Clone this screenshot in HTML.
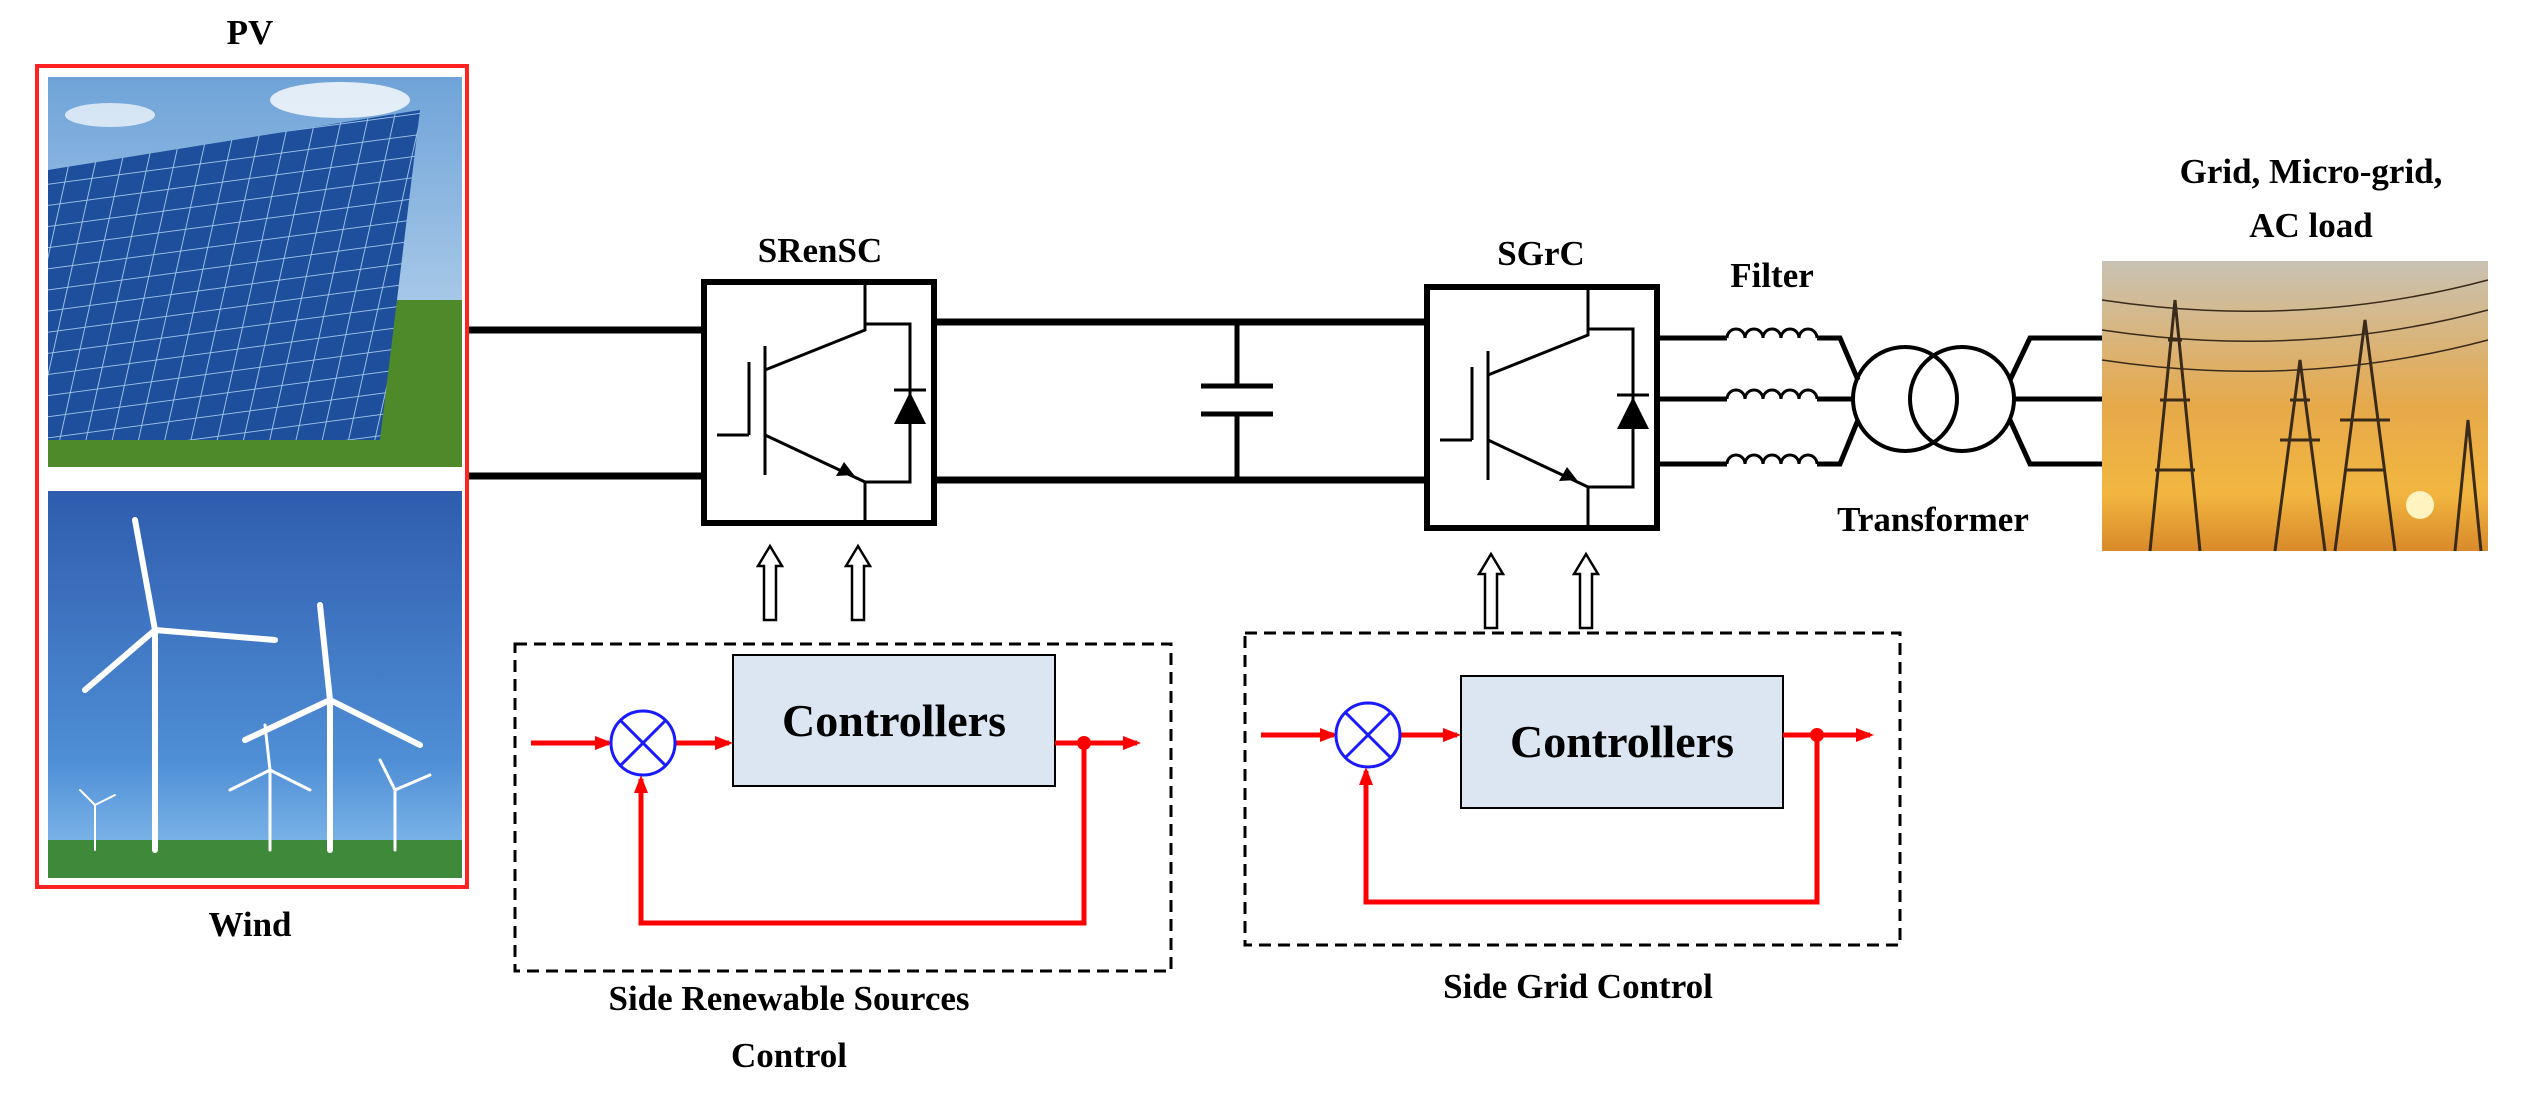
<!DOCTYPE html>
<html><head><meta charset="utf-8"><style>
html,body{margin:0;padding:0;background:#fff;}
svg{display:block;}
text{font-family:"Liberation Serif",serif;font-weight:bold;fill:#000;}
</style></head><body>
<svg width="2522" height="1096" viewBox="0 0 2522 1096" xmlns="http://www.w3.org/2000/svg">
<defs>
<linearGradient id="sky" x1="0" y1="0" x2="0" y2="1"><stop offset="0" stop-color="#6fa3d8"/><stop offset="1" stop-color="#cfe3f3"/></linearGradient>
<linearGradient id="wsky" x1="0" y1="0" x2="0" y2="1"><stop offset="0" stop-color="#2f5cae"/><stop offset="0.7" stop-color="#4f8fd6"/><stop offset="1" stop-color="#8cc2ee"/></linearGradient>
<linearGradient id="sun" x1="0" y1="0" x2="0" y2="1"><stop offset="0" stop-color="#c9c2b4"/><stop offset="0.5" stop-color="#e6a94a"/><stop offset="0.8" stop-color="#f2b640"/><stop offset="1" stop-color="#d98a2a"/></linearGradient>
<pattern id="cells" width="26" height="22" patternUnits="userSpaceOnUse" patternTransform="skewX(-20) rotate(-8)"><rect width="26" height="22" fill="#1d4f9c"/><path d="M0 0H26M0 0V22" stroke="#9cc0e6" stroke-width="2"/></pattern>
<marker id="ra" markerWidth="18" markerHeight="14" refX="14" refY="7" orient="auto" markerUnits="userSpaceOnUse"><path d="M0 0L18 7L0 14Z" fill="#f00"/></marker>
<g id="conv">
<rect x="0" y="0" width="230" height="241" fill="#fff" stroke="#000" stroke-width="6"/>
<g stroke="#000" stroke-width="3" fill="none">
<path d="M13 153H45M45 80V153"/>
<path d="M61 64V193"/>
<path d="M61 88L161 48V0"/>
<path d="M61 153L161 200V241"/>
<path d="M161 42H206V200H161"/>
<path d="M190 108H222"/>
</g>
<path d="M206 110L190 142H222Z" fill="#000"/>
<path d="M150 193L132 194L140 180Z" fill="#000"/>
</g>
<g id="coil"><path d="M0 0 a9 9 0 0 1 18 0 a9 9 0 0 1 18 0 a9 9 0 0 1 18 0 a9 9 0 0 1 18 0 a9 9 0 0 1 18 0" fill="none" stroke="#000" stroke-width="3"/></g>
</defs>

<text x="250" y="44" font-size="35" text-anchor="middle">PV</text>
<rect x="37" y="66" width="430" height="821" fill="none" stroke="#f22" stroke-width="4"/>
<rect x="48" y="77" width="414" height="390" fill="url(#sky)"/>
<rect x="48" y="300" width="414" height="167" fill="#4f8a2a"/>
<polygon points="48,170 420,110 380,440 48,440" fill="url(#cells)"/>
<ellipse cx="340" cy="100" rx="70" ry="18" fill="#fff" opacity="0.8"/>
<ellipse cx="110" cy="115" rx="45" ry="12" fill="#fff" opacity="0.7"/>
<rect x="48" y="491" width="414" height="387" fill="url(#wsky)"/>
<rect x="48" y="840" width="414" height="38" fill="#3f8a3a"/>
<g stroke="#fff" stroke-width="6" fill="none" stroke-linecap="round">
<path d="M155 630V850"/><path d="M155 630L135 520M155 630L275 640M155 630L85 690"/>
<path d="M330 700V850"/><path d="M330 700L320 605M330 700L420 745M330 700L245 740"/>
<path d="M270 770V850" stroke-width="3"/><path d="M270 770L265 725M270 770L310 790M270 770L230 790" stroke-width="3"/>
<path d="M395 790V850" stroke-width="3"/><path d="M395 790L380 760M395 790L430 775" stroke-width="3"/>
<path d="M95 805V850" stroke-width="2"/><path d="M95 805L80 790M95 805L115 795" stroke-width="2"/>
</g>
<text x="250" y="936" font-size="35" text-anchor="middle">Wind</text>

<g stroke="#000" stroke-width="7">
<path d="M469 330H704M469 476H704"/>
<path d="M934 322H1427M934 480H1427"/>
</g>
<g stroke="#000" stroke-width="5"><path d="M1237 322V386M1237 414V480"/><path d="M1201 386H1273M1201 414H1273"/></g>

<text x="820" y="262" font-size="35" text-anchor="middle">SRenSC</text>
<use href="#conv" x="704" y="282"/>
<text x="1541" y="265" font-size="35" text-anchor="middle">SGrC</text>
<use href="#conv" x="1427" y="287"/>

<text x="1772" y="287" font-size="35" text-anchor="middle">Filter</text>
<g stroke="#000" stroke-width="5" fill="none">
<path d="M1659 338H1727M1659 399H1727M1659 464H1727"/>
<path d="M1817 338L1840 338L1858 380M1817 399H1853M1817 464L1840 464L1858 420"/>
<path d="M2010 380L2030 338H2102M2014 399H2102M2010 420L2030 464H2102"/>
<circle cx="1905" cy="399" r="52" stroke-width="4"/>
<circle cx="1962" cy="399" r="52" stroke-width="4"/>
</g>
<use href="#coil" x="1727" y="338"/><use href="#coil" x="1727" y="399"/><use href="#coil" x="1727" y="464"/>
<text x="1933" y="531" font-size="35" text-anchor="middle">Transformer</text>

<text x="2311" y="183" font-size="35" text-anchor="middle">Grid, Micro-grid,</text>
<text x="2311" y="237" font-size="35" text-anchor="middle">AC load</text>
<rect x="2102" y="261" width="386" height="290" fill="url(#sun)"/>
<circle cx="2420" cy="505" r="14" fill="#fff3c0"/>
<g stroke="#3a2a1a" stroke-width="3" fill="none">
<path d="M2150 551L2175 300L2200 551M2160 400H2190M2155 470H2195M2168 340L2182 340"/>
<path d="M2275 551L2300 360L2325 551M2280 440H2320M2290 400H2310"/>
<path d="M2335 551L2365 320L2395 551M2340 420H2390M2345 470H2385"/>
<path d="M2455 551L2468 420L2481 551"/>
<path d="M2102 300Q2300 330 2488 280M2102 330Q2300 360 2488 310M2102 360Q2300 390 2488 340" stroke-width="1.5"/>
</g>

<g fill="#fff" stroke="#000" stroke-width="2.5">
<path d="M764 620V566H758L770 546L782 566H776V620Z"/>
<path d="M852 620V566H846L858 546L870 566H864V620Z"/>
<path d="M1485 628V574H1479L1491 554L1503 574H1497V628Z"/>
<path d="M1580 628V574H1574L1586 554L1598 574H1592V628Z"/>
</g>

<rect x="515" y="644" width="656" height="327" fill="none" stroke="#000" stroke-width="3" stroke-dasharray="12,7"/>
<rect x="733" y="655" width="322" height="131" fill="#dce6f2" stroke="#000" stroke-width="2"/>
<text x="894" y="736" font-size="46" text-anchor="middle">Controllers</text>
<g stroke="#f00" stroke-width="5" fill="none">
<path d="M531 743H609" marker-end="url(#ra)"/>
<path d="M676 743H729" marker-end="url(#ra)"/>
<path d="M1055 743H1137" marker-end="url(#ra)"/>
<path d="M1084 743V923H641V779" marker-end="url(#ra)"/>
</g>
<circle cx="1084" cy="743" r="7" fill="#f00"/>
<g stroke="#1a1aff" stroke-width="3" fill="#fff"><circle cx="643" cy="743" r="32"/><path d="M620 720L666 766M666 720L620 766"/></g>
<text x="789" y="1010" font-size="35" text-anchor="middle">Side Renewable Sources</text>
<text x="789" y="1067" font-size="35" text-anchor="middle">Control</text>

<rect x="1245" y="633" width="655" height="312" fill="none" stroke="#000" stroke-width="3" stroke-dasharray="12,7"/>
<rect x="1461" y="676" width="322" height="132" fill="#dce6f2" stroke="#000" stroke-width="2"/>
<text x="1622" y="757" font-size="46" text-anchor="middle">Controllers</text>
<g stroke="#f00" stroke-width="5" fill="none">
<path d="M1261 735H1334" marker-end="url(#ra)"/>
<path d="M1400 735H1457" marker-end="url(#ra)"/>
<path d="M1783 735H1870" marker-end="url(#ra)"/>
<path d="M1817 735V902H1366V771" marker-end="url(#ra)"/>
</g>
<circle cx="1817" cy="735" r="7" fill="#f00"/>
<g stroke="#1a1aff" stroke-width="3" fill="#fff"><circle cx="1368" cy="735" r="32"/><path d="M1345 712L1391 758M1391 712L1345 758"/></g>
<text x="1578" y="998" font-size="35" text-anchor="middle">Side Grid Control</text>
</svg>
</body></html>
